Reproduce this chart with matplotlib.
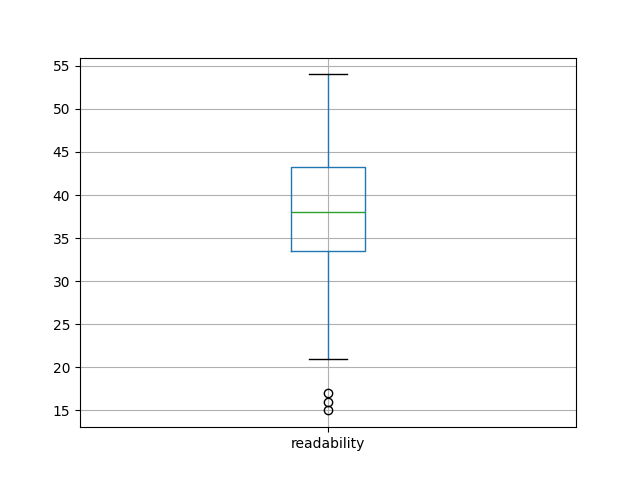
import matplotlib
matplotlib.use('Agg')
from matplotlib import pyplot as plt

# summary stats
labels   = ['readability']
q1       = [33.5]
med      = [38.0]
q3       = [43.25]
whislo   = [21.0]
whishi   = [54.0]
fliers   = [[15.0, 16.0, 17.0]]

stats = []
for i in range(len(labels)):
    stats.append({'label': labels[i], 'q1': q1[i], 'med': med[i], 'q3': q3[i],
                  'whislo': whislo[i], 'whishi': whishi[i], 'fliers': fliers[i]})

fig, ax = plt.subplots(figsize=(6.4, 4.8), dpi=100)
ax.bxp(stats,
       boxprops=dict(color='#1f77b4'),
       whiskerprops=dict(color='#1f77b4'),
       capprops=dict(color='black'),
       medianprops=dict(color='#2ca02c'),
       flierprops=dict(marker='o', markeredgecolor='black', markerfacecolor='none'))
ax.grid(True)
plt.savefig('out.png')
